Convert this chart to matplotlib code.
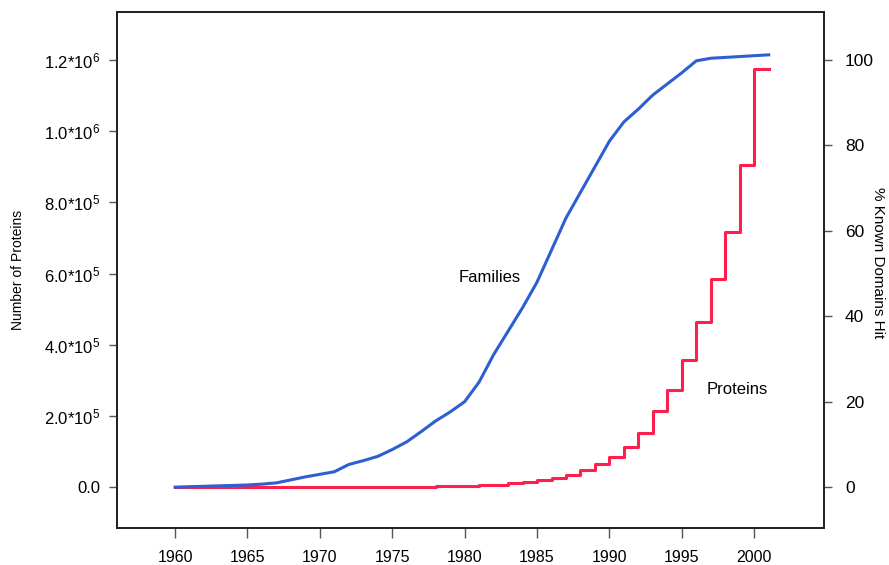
import matplotlib.pyplot as plt
import numpy as np

plt.rcParams['font.family'] = ['Liberation Sans', 'DejaVu Sans']
plt.rcParams['mathtext.fontset'] = 'custom'
plt.rcParams['mathtext.rm'] = 'Liberation Sans'
plt.rcParams['mathtext.default'] = 'regular'

# Data
years = np.arange(1960, 2002)

# Families, % known domains hit (right axis)
families_pct = [0.0, 0.1, 0.2, 0.3, 0.4, 0.5, 0.7, 1.0, 1.7, 2.4,
                3.0, 3.6, 5.3, 6.2, 7.2, 8.8, 10.6, 13.0, 15.5, 17.6,
                20.0, 24.6, 31.0, 36.5, 42.0, 48.0, 55.5, 63.0, 69.0, 75.0,
                81.0, 85.5, 88.5, 91.8, 94.4, 97.0, 99.8, 100.4, 100.6, 100.8,
                101.0, 101.2]

# Proteins, number of proteins per year (left axis), held until next year
protein_years = np.arange(1960, 2001)
proteins = [0, 0, 0, 100, 100, 200, 200, 300, 300, 400,
            500, 600, 700, 800, 900, 1000, 1200, 1500, 2000, 2500,
            3500, 5000, 7000, 11000, 14000, 19000, 25000, 33000, 48000, 65000,
            84000, 113000, 151000, 214000, 272000, 356000, 463000, 584000, 716000, 905000,
            1174000]

left_ticks = [0, 2e5, 4e5, 6e5, 8e5, 1e6, 1.2e6]
left_labels = ['0.0', '2.0*10$^{5}$', '4.0*10$^{5}$', '6.0*10$^{5}$',
               '8.0*10$^{5}$', '1.0*10$^{6}$', '1.2*10$^{6}$']
right_ticks = [0, 20, 40, 60, 80, 100]
x_ticks = [1960, 1965, 1970, 1975, 1980, 1985, 1990, 1995, 2000]

fig = plt.figure(figsize = (8.89, 5.65), dpi = 100)
ax1 = fig.add_axes([0.1313, 0.066, 0.7959, 0.9133])
ax2 = ax1.twinx()

font_size = 11.5

# Proteins as step line
ax1.step(np.append(protein_years, 2001), np.append(proteins, proteins[-1]),
         where = 'post', color = '#ff1f4f', linewidth = 2.2, zorder = 2)

# Families as line
ax2.plot(years, families_pct, color = '#2d5fd2', linewidth = 2.2, zorder = 3)

ax1.set_xlim(1955.97, 2004.84)
ax1.set_ylim(-114000, 1335600)
ax2.set_ylim(-9.5, 111.3)

ax1.set_xticks(x_ticks)
ax1.set_xticklabels([str(x) for x in x_ticks], fontsize = font_size)
ax1.set_yticks(left_ticks)
ax1.set_yticklabels(left_labels, fontsize = 12)
ax2.set_yticks(right_ticks)
ax2.set_yticklabels([str(t) for t in right_ticks], fontsize = 12.5)

ax1.tick_params(axis = 'x', length = 7, width = 1, color = '#555555', pad = 9)
ax1.tick_params(axis = 'y', length = 6, width = 1, color = '#555555', pad = 6)
ax2.tick_params(axis = 'y', length = 6, width = 1, color = '#555555', pad = 9)

# Axis titles placed in figure coords
fig.text(0.0202, 0.522, 'Number of Proteins', fontsize = 10, rotation = 90,
         ha = 'center', va = 'center')
fig.text(0.9876, 0.536, '% Known Domains Hit', fontsize = 11, rotation = 270,
         ha = 'center', va = 'center')

for ax in (ax1, ax2):
    for spine in ax.spines.values():
        spine.set_linewidth(1.3)
        spine.set_color('#222222')

# Line labels
ax2.text(1981.75, 49, 'Families', fontsize = 12, ha = 'center', va = 'center')
ax2.text(1996.7, 22.9, 'Proteins', fontsize = 12, ha = 'left', va = 'center')

fig.savefig('out.png', dpi = 100)
